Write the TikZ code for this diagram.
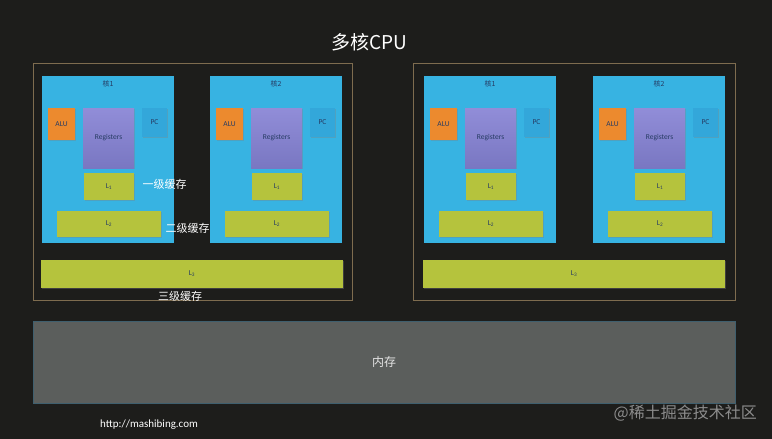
\documentclass[tikz,border=0pt]{standalone}
\usepackage{fontspec}
\setmainfont{Carlito}
\newfontfamily\cjk{Noto Sans CJK SC}
\usetikzlibrary{shadows}
\definecolor{board}{HTML}{1D1D1B}
\definecolor{frame}{HTML}{7E6C4F}
\definecolor{core}{HTML}{37B3E2}
\definecolor{alu}{HTML}{EC8A2E}
\definecolor{regtop}{HTML}{918DD8}
\definecolor{regbot}{HTML}{7977C2}
\definecolor{pc}{HTML}{33A7DA}
\definecolor{cache}{HTML}{B5C33D}
\definecolor{mem}{HTML}{5B5E5C}
\definecolor{memline}{HTML}{3F5F6E}
\definecolor{boxtext}{HTML}{263B63}
\tikzset{
  label text/.style={inner sep=0pt,font=\fontsize{7.5}{9}\selectfont,text=boxtext},
  unit/.style={label text,
    drop shadow={shadow xshift=0.8pt,shadow yshift=-0.8pt,opacity=0.35}},
  alubox/.style={unit,fill=alu,minimum width=27pt,minimum height=32pt},
  regbox/.style={unit,top color=regtop,bottom color=regbot,minimum width=51pt,minimum height=60pt},
  pcbox/.style={unit,fill=pc,minimum width=25pt,minimum height=29pt},
  cachebox/.style={unit,fill=cache},
  corebox/.style={fill=core,minimum width=132pt,minimum height=167pt,inner sep=0pt},
  cpubox/.style={draw=frame,line width=0.9pt,inner sep=0pt},
  note/.style={text=white,font=\cjk\fontsize{11}{13}\selectfont,inner sep=0pt}
}
\begin{document}
\begin{tikzpicture}[x=1pt,y=-1pt]
\fill[board] (0,0) rectangle (772,439);
\useasboundingbox (0,0) rectangle (772,439);
\node[text=white,font=\cjk\fontsize{19}{21}\selectfont] (title) at (369,42) {多核CPU};
% two CPU frames with their shared L3
\node[cpubox,minimum width=319pt,minimum height=237pt] (cpuA) at (192.5,181.5) {};
\node[cpubox,minimum width=322pt,minimum height=237pt] (cpuB) at (574,181.5) {};
\node[cachebox,minimum width=302pt,minimum height=28pt] (l3A) at (192,274) {L\textsubscript{3}};
\node[cachebox,minimum width=302pt,minimum height=28pt] (l3B) at (574,274) {L\textsubscript{3}};
% cores
\foreach \i/\x/\k in {1/42/1,2/210/2,3/424/1,4/593/2}{
  \node[corebox] (core\i) at (\x+66,159.5) {};
  \node[label text] (name\i) at (\x+66,84) {\cjk\fontsize{7}{8}\selectfont 核\k};
  \node[alubox] (alu\i) at (\x+19.5,124) {ALU};
  \node[regbox] (reg\i) at (\x+66.5,138) {Registers};
  \node[pcbox] (pc\i) at (\x+112.5,122.5) {PC};
  \node[cachebox,minimum width=50pt,minimum height=27pt] (l1\i) at (\x+67,186.5) {L\textsubscript{1}};
  \node[cachebox,minimum width=104pt,minimum height=26pt] (l2\i) at (\x+67,224) {L\textsubscript{2}};
}
\node[note] (lvl1) at (164.5,184) {一级缓存};
\node[note] (lvl2) at (187.5,228) {二级缓存};
\node[note] (lvl3) at (180,296) {三级缓存};
% main memory
\node[fill=mem,draw=memline,line width=0.6pt,minimum width=702pt,minimum height=82pt,
  text=white!90!black,font=\cjk\fontsize{12}{14}\selectfont] (mem) at (384,362) {内存};
\node[anchor=west,text=white,font=\fontsize{11}{13}\selectfont,inner sep=0pt] (url) at (100,425) {http://mashibing.com};
\node[anchor=east,text=white!55!black,font=\cjk\fontsize{16}{18}\selectfont,inner sep=0pt] (mark) at (757,413) {@稀土掘金技术社区};
\end{tikzpicture}
\end{document}
